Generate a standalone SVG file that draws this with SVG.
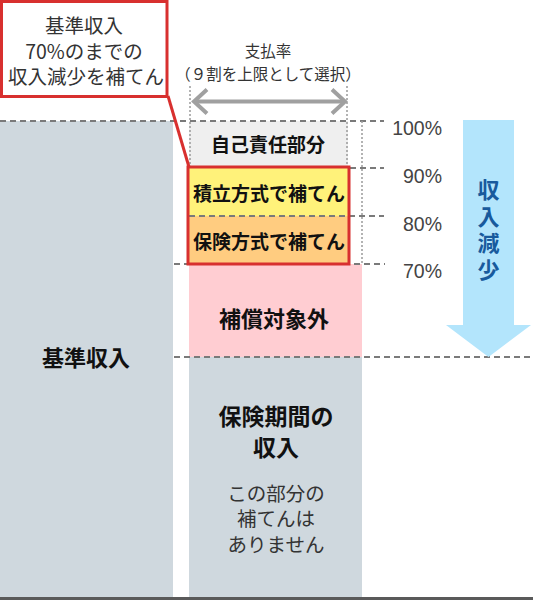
<svg xmlns="http://www.w3.org/2000/svg" width="533" height="600" viewBox="0 0 533 600">
<style>
text{font-family:"Noto Sans CJK JP","Liberation Sans",sans-serif;dominant-baseline:central;text-anchor:middle}
.b{font-weight:bold;fill:#111}
.r{fill:#333}
.pct{font-family:"Liberation Sans","Noto Sans CJK JP",sans-serif;font-size:19.5px;fill:#444;text-anchor:end}
.dash{stroke:#7a7a7a;stroke-width:2;stroke-dasharray:6 4;fill:none}
.dot{stroke:#9a9a9a;stroke-width:1.5;stroke-dasharray:2 2;fill:none}
.red{stroke:#d8302f;stroke-width:3;fill:none}
</style>
<rect width="533" height="600" fill="#fff"/>
<g id="base-income">
<rect x="0" y="121" width="173" height="477" fill="#cfd8de"/>
<text class="b" x="86" y="356" font-size="22">基準収入</text>
</g>
<g id="self">
<rect x="189" y="121" width="159" height="47" fill="#efefef"/>
<text class="b" x="268" y="143" font-size="19">自己責任部分</text>
</g>
<g id="reserve">
<rect x="189" y="168" width="160" height="48" fill="#fff27a"/>
<text class="b" x="269" y="192" font-size="19">積立方式で補てん</text>
</g>
<g id="insurance">
<rect x="189" y="216" width="160" height="48" fill="#ffcc80"/>
<text class="b" x="269" y="240" font-size="19">保険方式で補てん</text>
</g>
<g id="not-covered">
<rect x="189" y="264" width="173" height="93" fill="#ffcdd2"/>
<text class="b" x="274" y="317" font-size="22">補償対象外</text>
</g>
<g id="period-income">
<rect x="189" y="357" width="173" height="241" fill="#cfd8de"/>
<text class="b" font-size="23"><tspan x="276" y="415">保険期間の</tspan><tspan x="276" y="446">収入</tspan></text>
<text class="r" font-size="19.5"><tspan x="276" y="492">この部分の</tspan><tspan x="276" y="517">補てんは</tspan><tspan x="276" y="543">ありません</tspan></text>
</g>
<g id="guides">
<line class="dash" x1="0" y1="121" x2="384" y2="121"/>
<line class="dash" x1="350" y1="168" x2="384" y2="168"/>
<line class="dash" x1="189" y1="216" x2="384" y2="216"/>
<line class="dash" x1="174" y1="264" x2="385" y2="264"/>
<line class="dash" x1="174" y1="357" x2="533" y2="357"/>
<line class="dot" x1="190" y1="86" x2="190" y2="167"/>
<line class="dot" x1="347" y1="86" x2="347" y2="167"/>
<line class="dot" x1="362" y1="121" x2="362" y2="264"/>
<line x1="0" y1="598.5" x2="533" y2="598.5" stroke="#5a5a5a" stroke-width="3"/>
</g>
<g id="percent-labels">
<text class="pct" x="442" y="128">100%</text>
<text class="pct" x="442" y="176">90%</text>
<text class="pct" x="442" y="224">80%</text>
<text class="pct" x="442" y="271">70%</text>
</g>
<g id="payout-ratio">
<text class="r" font-size="15.5"><tspan x="268" y="50">支払率</tspan><tspan x="268" y="73">（９割を上限として選択）</tspan></text>
<g stroke="#a0a0a0" stroke-width="4" fill="none" stroke-linecap="butt">
<line x1="195" y1="101.5" x2="344" y2="101.5"/>
<polyline points="207,89.5 194,101.5 207,113.5"/>
<polyline points="332,89.5 345,101.5 332,113.5"/>
</g>
</g>
<g id="income-decrease">
<polygon points="463,120 514,120 514,325 531,325 488.5,357 446,325 463,325" fill="#b3e5fc"/>
<text x="488.5" y="179" font-size="22" font-weight="bold" fill="#185a9d" writing-mode="vertical-rl" letter-spacing="4.5" style="text-anchor:start;dominant-baseline:auto">収入減少</text>
</g>
<g id="callout">
<rect x="188" y="167" width="161" height="97" class="red"/>
<line x1="168" y1="96" x2="189" y2="167" class="red"/>
<rect x="1.5" y="1.5" width="165.5" height="95" class="red" style="fill:#fff"/>
<text class="r" font-size="19.5"><tspan x="84" y="24">基準収入</tspan><tspan x="84" y="49.5">70%のまでの</tspan><tspan x="86" y="75">収入減少を補てん</tspan></text>
</g>
</svg>
